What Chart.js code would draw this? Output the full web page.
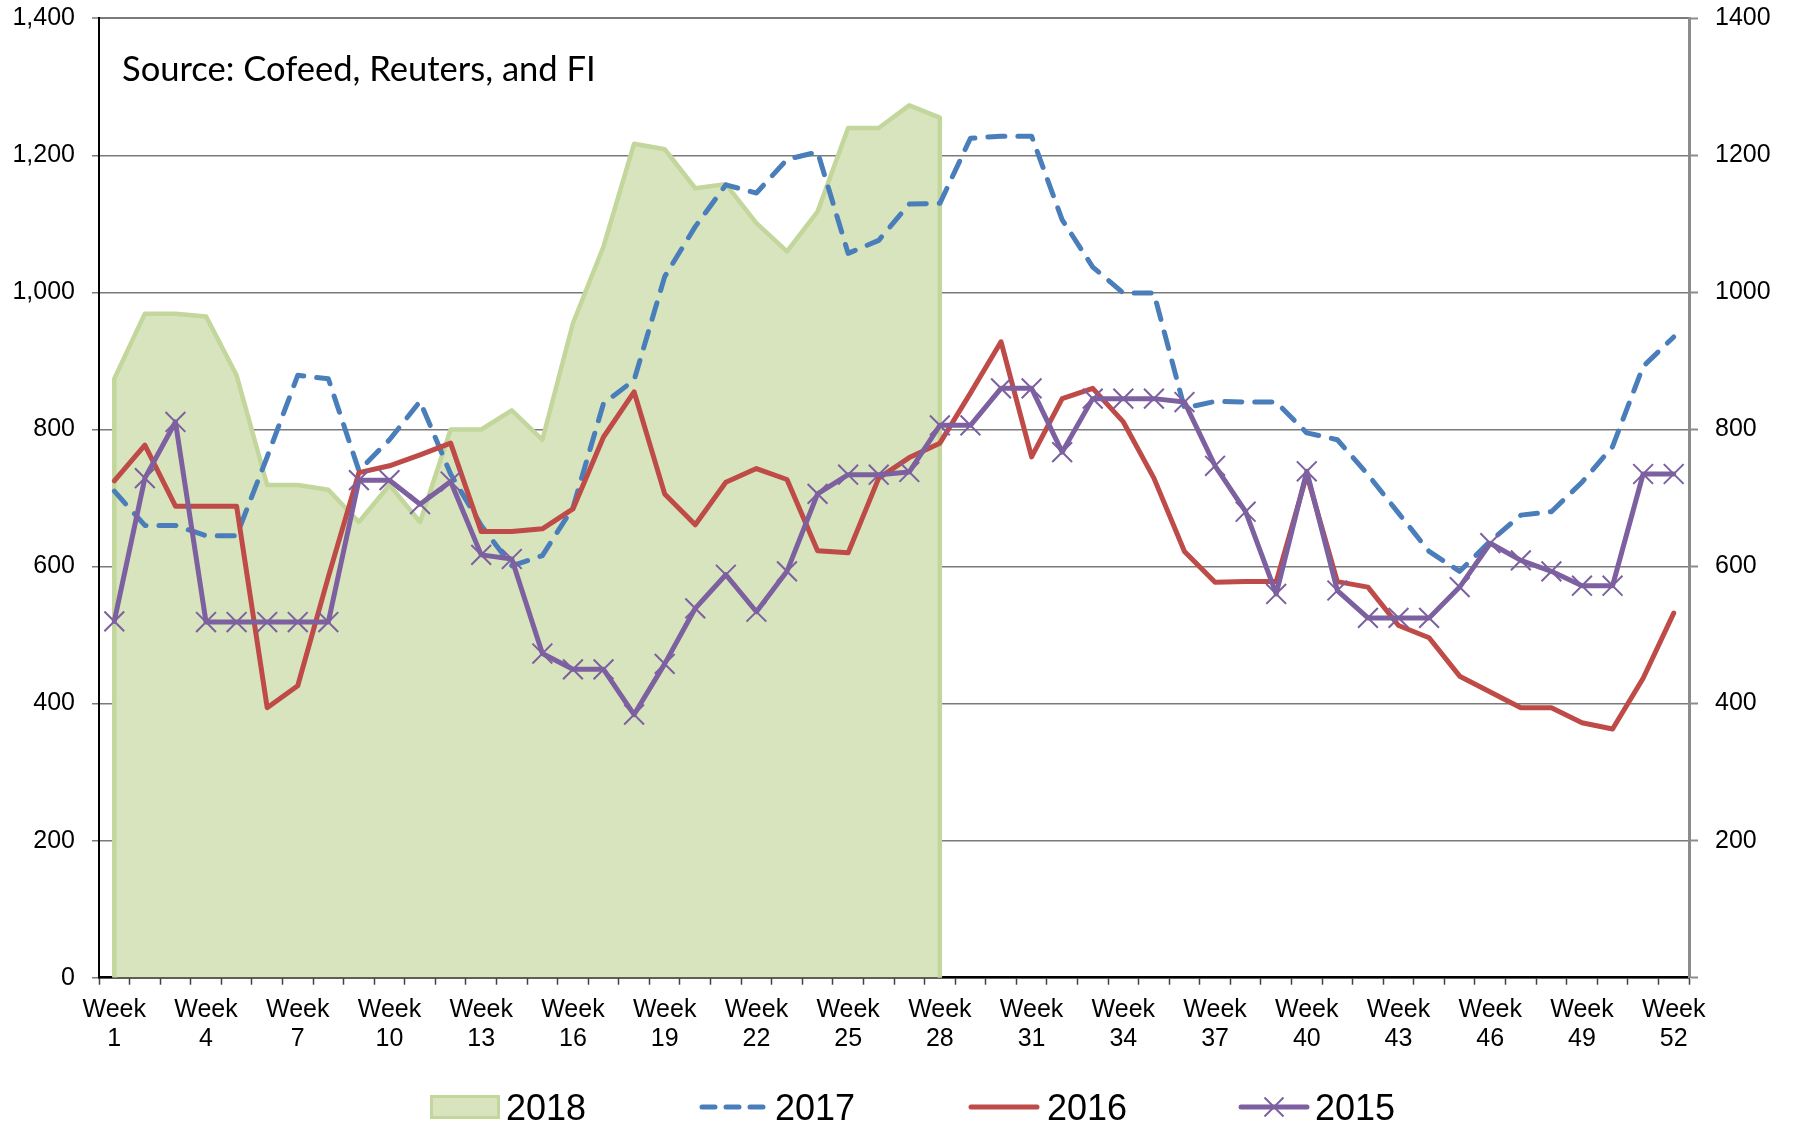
<!DOCTYPE html>
<html>
<head>
<meta charset="utf-8">
<script src="https://cdn.jsdelivr.net/npm/chart.js@4.4.1/dist/chart.umd.min.js"></script>
<style>
  html, body { margin: 0; padding: 0; background: #ffffff; }
  #wrap { width: 1795px; height: 1125px; }
</style>
</head>
<body>
<div id="wrap"><canvas id="c" width="1795" height="1125"></canvas></div>
<script>
// ---------- data ----------
const weeks = ['Week 1','Week 2','Week 3','Week 4','Week 5','Week 6','Week 7','Week 8','Week 9','Week 10',
  'Week 11','Week 12','Week 13','Week 14','Week 15','Week 16','Week 17','Week 18','Week 19','Week 20',
  'Week 21','Week 22','Week 23','Week 24','Week 25','Week 26','Week 27','Week 28','Week 29','Week 30',
  'Week 31','Week 32','Week 33','Week 34','Week 35','Week 36','Week 37','Week 38','Week 39','Week 40',
  'Week 41','Week 42','Week 43','Week 44','Week 45','Week 46','Week 47','Week 48','Week 49','Week 50',
  'Week 51','Week 52'];

const labeledWeeks = ['Week 1','Week 4','Week 7','Week 10','Week 13','Week 16','Week 19','Week 22','Week 25',
  'Week 28','Week 31','Week 34','Week 37','Week 40','Week 43','Week 46','Week 49','Week 52'];

const values2018 = [874, 969, 969, 965, 879, 719, 719, 712, 665, 719, 665, 800, 800, 828, 785, 955, 1067, 1217,
  1209, 1152, 1158, 1101, 1060, 1118, 1240, 1240, 1273, 1255];

const values2017 = [710, 660, 660, 645, 645, 760, 879, 874, 740, 785, 841, 735, 660, 601, 616, 686, 838, 872,
  1023, 1096, 1157, 1145, 1194, 1205, 1057, 1076, 1129, 1130, 1225, 1228, 1228, 1106, 1037, 999, 999, 831,
  841, 840, 840, 795, 785, 734, 678, 622, 593, 637, 675, 680, 723, 775, 892, 935];

const values2016 = [725, 777, 688, 688, 688, 394, 426, 585, 737, 747, 763, 780, 651, 651, 655, 684, 789, 855,
  706, 661, 723, 743, 727, 623, 620, 729, 759, 780, 853, 928, 760, 845, 860, 811, 729, 622, 577, 578, 578,
  734, 578, 570, 514, 496, 440, 417, 394, 394, 372, 363, 437, 532];

const values2015 = [520, 729, 811, 519, 519, 519, 519, 519, 726, 726, 691, 724, 617, 611, 473, 450, 450, 384,
  458, 539, 588, 534, 593, 706, 734, 734, 738, 806, 806, 860, 860, 767, 845, 845, 845, 840, 747, 680, 560,
  739, 565, 525, 525, 525, 570, 634, 609, 593, 572, 572, 735, 735];

const seriesNames = ['2018', '2017', '2016', '2015'];
const yMin = 0, yMax = 1400, yStep = 200;
const sourceText = 'Source: Cofeed, Reuters, and FI';

// ---------- styles ----------
const C2018_FILL = '#D7E4BD', C2018_LINE = '#C3D69B';
const C2017 = '#4A7EBB', C2016 = '#BE4B48', C2015 = '#7D60A0';
const AXIS_FONT = 'Liberation Sans, Arial, sans-serif';

// 2018 area: closed at both ends down to zero so the outline has vertical edges
const area2018 = [{ x: weeks[0], y: 0 }]
  .concat(values2018.map((v, i) => ({ x: weeks[i], y: v })))
  .concat([{ x: weeks[values2018.length - 1], y: 0 }]);

const overlay = {
  id: 'overlay',
  afterDraw(chart) {
    const ctx = chart.ctx;
    ctx.save();
    // source note
    let size = 28;
    ctx.font = size + 'px Lato';
    const w = ctx.measureText(sourceText).width;
    size = size * 474 / w;
    ctx.font = size.toFixed(2) + 'px Lato';
    ctx.fillStyle = '#000';
    ctx.textBaseline = 'alphabetic';
    ctx.textAlign = 'left';
    ctx.fillText(sourceText, 122, 81);

    // legend
    const cy = 1107;
    const symX = [430, 699, 968, 1238];
    const txtX = [506, 775, 1047, 1315];
    // 2018 box
    ctx.fillStyle = C2018_FILL;
    ctx.strokeStyle = C2018_LINE;
    ctx.lineWidth = 3;
    ctx.fillRect(symX[0] + 1.5, cy - 10.5, 67, 21);
    ctx.strokeRect(symX[0] + 1.5, cy - 10.5, 67, 21);
    // 2017 dashed
    ctx.lineCap = 'round';
    ctx.lineWidth = 5;
    ctx.strokeStyle = C2017;
    ctx.setLineDash([13, 11]);
    ctx.beginPath(); ctx.moveTo(symX[1] + 3, cy); ctx.lineTo(symX[1] + 66, cy); ctx.stroke();
    ctx.setLineDash([]);
    // 2016
    ctx.strokeStyle = C2016;
    ctx.beginPath(); ctx.moveTo(symX[2] + 3, cy); ctx.lineTo(symX[2] + 69, cy); ctx.stroke();
    // 2015 with x marker
    ctx.strokeStyle = C2015;
    ctx.beginPath(); ctx.moveTo(symX[3] + 3, cy); ctx.lineTo(symX[3] + 69, cy); ctx.stroke();
    ctx.lineWidth = 2;
    ctx.lineCap = 'butt';
    const mx = symX[3] + 36, r = 9.5;
    ctx.beginPath();
    ctx.moveTo(mx - r, cy - r); ctx.lineTo(mx + r, cy + r);
    ctx.moveTo(mx - r, cy + r); ctx.lineTo(mx + r, cy - r);
    ctx.stroke();
    // legend text
    ctx.fillStyle = '#000';
    ctx.font = '36px ' + AXIS_FONT;
    ctx.textBaseline = 'alphabetic';
    seriesNames.forEach((n, i) => ctx.fillText(n, txtX[i], cy + 12.5));
    ctx.restore();
  }
};

new Chart(document.getElementById('c'), {
  type: 'line',
  data: {
    labels: weeks,
    datasets: [
      {
        label: seriesNames[0], data: area2018, order: 4,
        borderColor: C2018_LINE, backgroundColor: C2018_FILL, borderWidth: 4.5,
        fill: 'origin', pointRadius: 0, tension: 0, borderJoinStyle: 'round'
      },
      {
        label: seriesNames[1], data: values2017, order: 3,
        borderColor: C2017, borderWidth: 5, borderDash: [17, 13], borderCapStyle: 'round',
        borderJoinStyle: 'round', fill: false, pointRadius: 0, tension: 0
      },
      {
        label: seriesNames[2], data: values2016, order: 2,
        borderColor: C2016, borderWidth: 5, borderJoinStyle: 'round', borderCapStyle: 'round',
        fill: false, pointRadius: 0, tension: 0
      },
      {
        label: seriesNames[3], data: values2015, order: 1,
        borderColor: C2015, borderWidth: 5, borderJoinStyle: 'round', borderCapStyle: 'round',
        fill: false, tension: 0,
        pointStyle: 'crossRot', pointRadius: 14, pointBorderWidth: 2,
        pointBorderColor: C2015, pointBackgroundColor: 'rgba(0,0,0,0)'
      }
    ]
  },
  options: {
    responsive: false,
    animation: false,
    devicePixelRatio: 1,
    layout: { padding: { top: 18.3, bottom: 72.3, left: 0, right: 0 } },
    plugins: { legend: { display: false }, tooltip: { enabled: false } },
    events: [],
    scales: {
      x: {
        type: 'category',
        offset: true,
        afterFit(scale) { scale.height = 75; scale.paddingLeft = 0; scale.paddingRight = 0; },
        grid: { offset: true, drawOnChartArea: false, drawTicks: true, tickLength: 7,
                tickColor: '#404040', tickWidth: 1.5 },
        border: { display: true, color: '#000000', width: 2.5 },
        ticks: {
          autoSkip: false, maxRotation: 0, minRotation: 0, padding: 11,
          color: '#000', font: { family: AXIS_FONT, size: 25, lineHeight: 1.16 },
          callback(value, index) {
            const lab = weeks[index];
            return labeledWeeks.includes(lab) ? lab.split(' ') : '';
          }
        }
      },
      y: {
        position: 'left',
        min: yMin, max: yMax,
        afterFit(scale) { scale.width = 99; scale.paddingTop = 0; scale.paddingBottom = 0; },
        grid: {
          color: '#7a7a7a',
          lineWidth: (c) => (c.tick && c.tick.value === yMax ? 2 : 1.5),
          tickColor: '#7a7a7a', tickLength: 7, tickWidth: 1.5
        },
        border: { display: true, color: '#000000', width: 2 },
        ticks: {
          stepSize: yStep, padding: 17, color: '#000',
          font: { family: AXIS_FONT, size: 25 },
          callback: (v) => v.toLocaleString('en-US')
        }
      },
      y2: {
        position: 'right',
        min: yMin, max: yMax,
        afterFit(scale) { scale.width = 106; scale.paddingTop = 0; scale.paddingBottom = 0; },
        grid: { drawOnChartArea: false, tickColor: '#8c8c8c', tickLength: 9, tickWidth: 2 },
        border: { display: true, color: '#8c8c8c', width: 3 },
        ticks: {
          stepSize: yStep, padding: 17, color: '#000',
          font: { family: AXIS_FONT, size: 25 },
          callback: (v) => (v === 0 ? '' : String(v))
        }
      }
    }
  },
  plugins: [overlay]
});
</script>
</body>
</html>
